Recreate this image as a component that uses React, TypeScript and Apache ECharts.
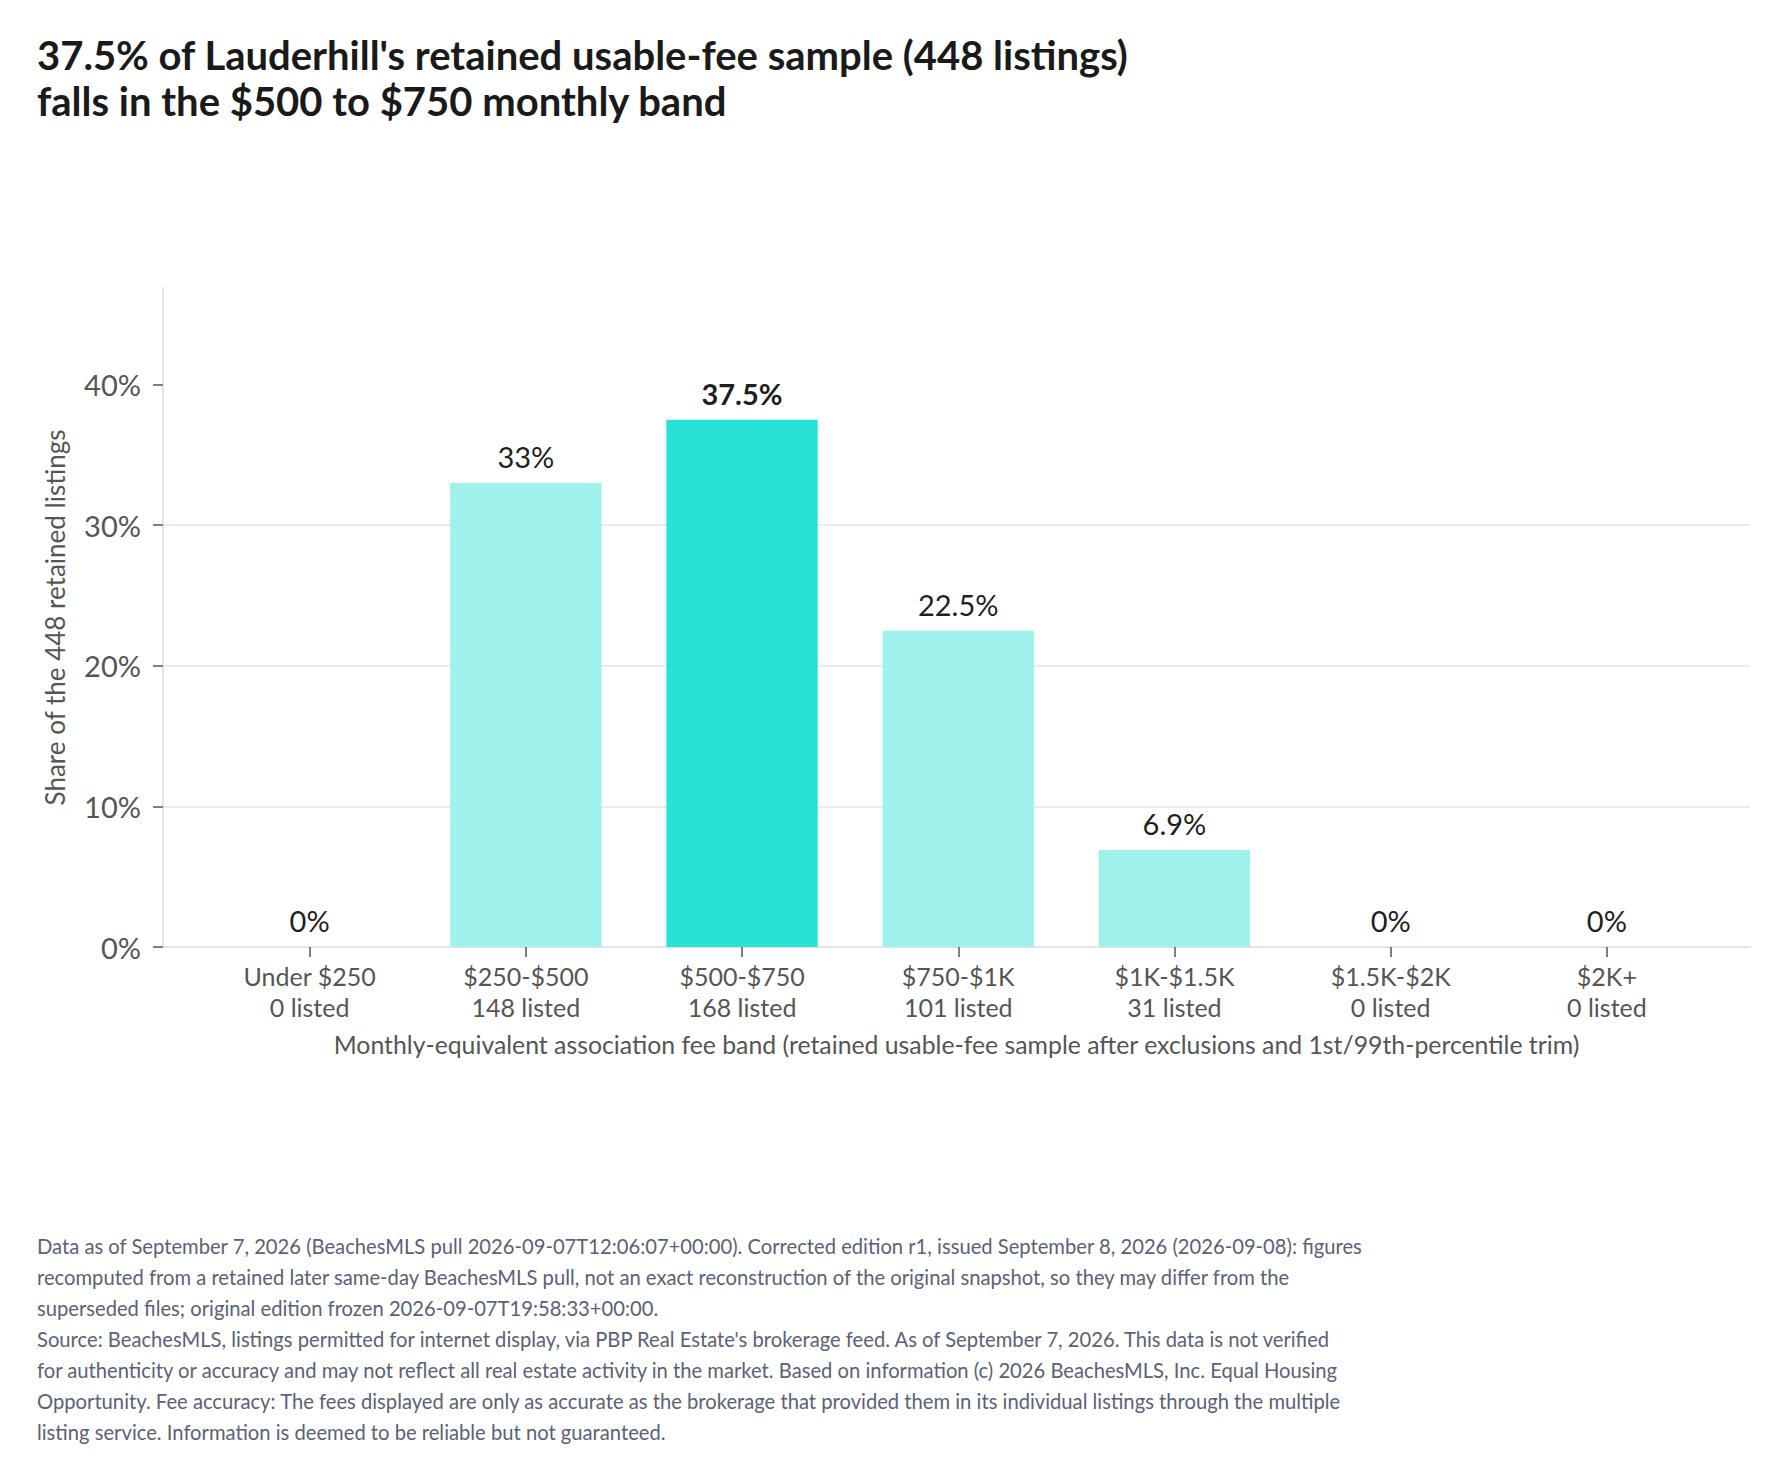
import React, { useEffect, useRef } from 'react';
import * as echarts from 'echarts';

const bands = ['Under $250', '$250-$500', '$500-$750', '$750-$1K', '$1K-$1.5K', '$1.5K-$2K', '$2K+'];
const listed = [0, 148, 168, 101, 31, 0, 0];
const shares = [0, 33, 37.5, 22.5, 6.9, 0, 0];
const highlightIndex = 2;
const yTicks = [0, 10, 20, 30, 40];

const titleLines = [
  "37.5% of Lauderhill's retained usable-fee sample (448 listings)",
  'falls in the $500 to $750 monthly band',
];
const footnoteLines = [
  'Data as of September 7, 2026 (BeachesMLS pull 2026-09-07T12:06:07+00:00). Corrected edition r1, issued September 8, 2026 (2026-09-08): figures',
  'recomputed from a retained later same-day BeachesMLS pull, not an exact reconstruction of the original snapshot, so they may differ from the',
  'superseded files; original edition frozen 2026-09-07T19:58:33+00:00.',
  "Source: BeachesMLS, listings permitted for internet display, via PBP Real Estate's brokerage feed. As of September 7, 2026. This data is not verified",
  'for authenticity or accuracy and may not reflect all real estate activity in the market. Based on information (c) 2026 BeachesMLS, Inc. Equal Housing',
  'Opportunity. Fee accuracy: The fees displayed are only as accurate as the brokerage that provided them in its individual listings through the multiple',
  'listing service. Information is deemed to be reliable but not guaranteed.',
];

const yTitle = 'Share of the 448 retained listings';
const xTitle =
  'Monthly-equivalent association fee band (retained usable-fee sample after exclusions and 1st/99th-percentile trim)';

const FONT = 'Lato';
const GRID_LINE = '#e3e3ef';
const Y_MAX = 46.875;

const App: React.FC = () => {
  const chartRef = useRef<HTMLDivElement>(null);

  useEffect(() => {
    document.body.style.margin = '0';
    if (!chartRef.current) return;
    const chart = echarts.init(chartRef.current, undefined, { renderer: 'svg' });

    const barData = shares.map((v, i) => ({
      value: v,
      itemStyle: { color: i === highlightIndex ? '#26e3d6' : '#9ef2eb' },
      label: { fontWeight: i === highlightIndex ? 'bold' : 'normal' },
    }));

    chart.setOption({
      animation: false,
      backgroundColor: '#ffffff',
      textStyle: { fontFamily: FONT },
      title: [
        {
          text: titleLines.join('\n'),
          left: 32,
          top: 27,
          textStyle: {
            fontFamily: FONT,
            fontSize: 40,
            fontWeight: 'bold',
            color: '#1a1a1a',
            lineHeight: 46,
          },
        },
        {
          text: footnoteLines.join('\n'),
          left: 32,
          top: 1225,
          textStyle: {
            fontFamily: FONT,
            fontSize: 20.2,
            fontWeight: 'normal',
            color: '#5a6275',
            lineHeight: 31,
          },
        },
      ],
      grid: [
        { left: 163, right: 32, top: 288, bottom: 530 },
        { left: 201.5, right: 67, top: 288, bottom: 530 },
      ],
      xAxis: [
        {
          gridIndex: 0,
          type: 'value',
          min: 0,
          max: 1,
          axisLine: { show: true, lineStyle: { color: GRID_LINE, width: 2 } },
          axisTick: { show: false },
          axisLabel: { show: false },
          splitLine: { show: false },
          name: xTitle,
          nameLocation: 'middle',
          nameGap: 85,
          nameTextStyle: { fontFamily: FONT, fontSize: 24.8, color: '#555555' },
        },
        {
          gridIndex: 1,
          type: 'category',
          data: bands,
          axisLine: { show: false },
          axisTick: { show: true, alignWithLabel: true, length: 10, lineStyle: { color: '#555555', width: 1.5 } },
          axisLabel: {
            margin: 13,
            fontFamily: FONT,
            fontSize: 25,
            color: '#555555',
            lineHeight: 31,
            formatter: (v: string, i: number) => `${v}\n${listed[i]} listed`,
          },
        },
      ],
      yAxis: [
        {
          gridIndex: 0,
          type: 'value',
          min: 0,
          max: Y_MAX,
          interval: 10,
          axisLine: { show: true, lineStyle: { color: GRID_LINE, width: 2 } },
          axisTick: {
            show: true,
            length: 10,
            customValues: yTicks,
            lineStyle: { color: '#555555', width: 1.5 },
          },
          axisLabel: {
            margin: 22,
            fontFamily: FONT,
            fontSize: 29,
            color: '#555555',
            customValues: yTicks,
            formatter: (v: number) => `${v}%`,
          },
          splitLine: { show: true, showMaxLine: false, lineStyle: { color: GRID_LINE, width: 1.5 } },
          name: yTitle,
          nameLocation: 'middle',
          nameGap: 95,
          nameTextStyle: { fontFamily: FONT, fontSize: 26, color: '#555555' },
        },
        {
          gridIndex: 1,
          type: 'value',
          min: 0,
          max: Y_MAX,
          show: false,
          splitLine: { show: false },
        },
      ],
      series: [
        {
          type: 'bar',
          xAxisIndex: 1,
          yAxisIndex: 1,
          barWidth: '70%',
          data: barData,
          label: {
            show: true,
            position: 'top',
            distance: 12,
            fontFamily: FONT,
            fontSize: 29,
            color: '#1f1f1f',
            formatter: (p: any) => `${p.value}%`,
          },
        },
      ],
    });

    return () => {
      chart.dispose();
    };
  }, []);

  return <div ref={chartRef} style={{ width: 1782, height: 1477 }}></div>;
};

export default App;
